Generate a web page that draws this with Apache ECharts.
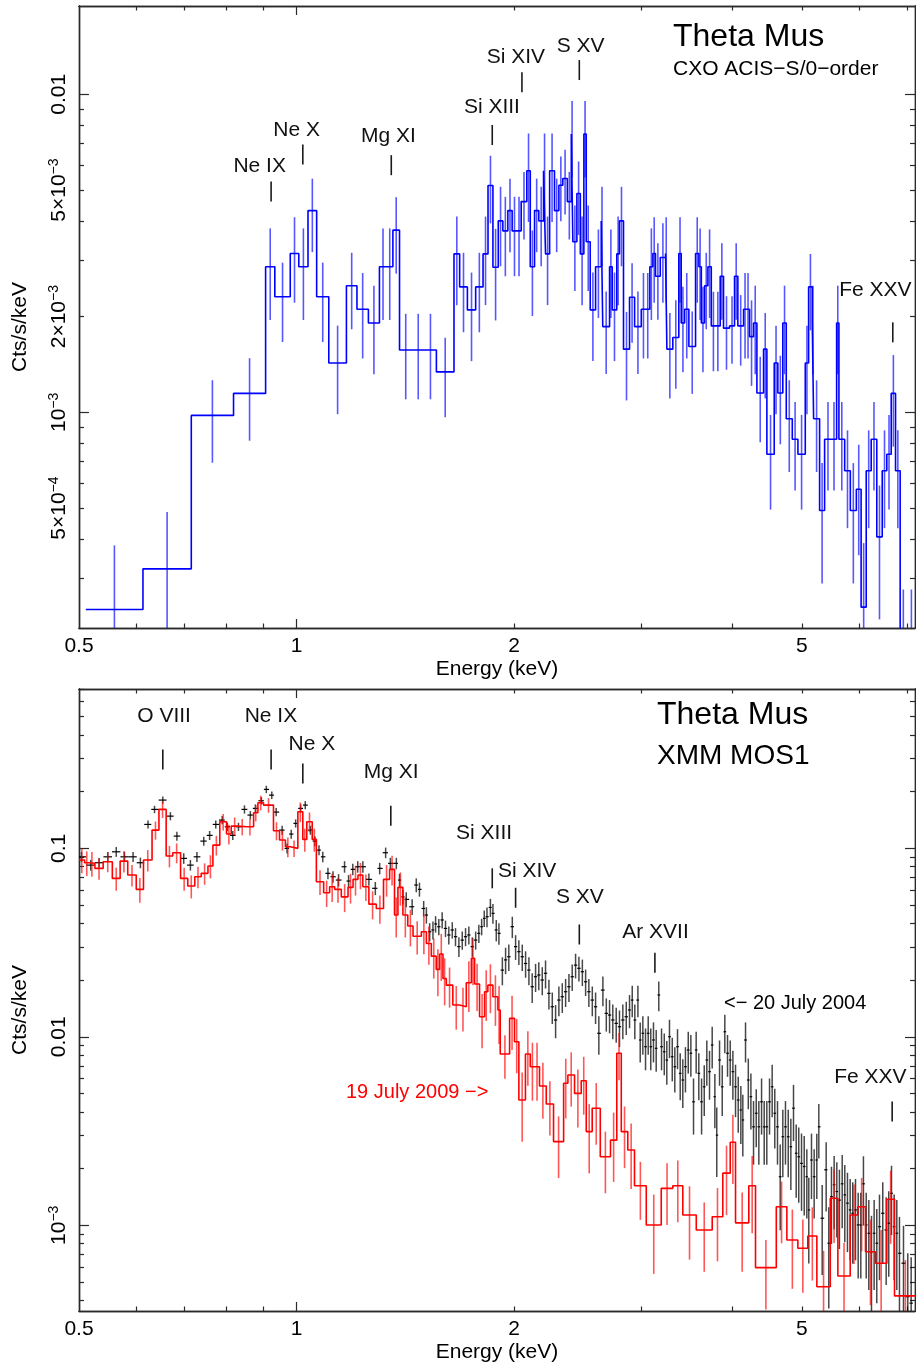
<!DOCTYPE html>
<html>
<head>
<meta charset="utf-8">
<script src="https://cdn.jsdelivr.net/npm/echarts@6.0.0/dist/echarts.min.js"></script>
<style>
html,body{margin:0;padding:0;background:#ffffff;}
#chart{width:916px;height:1370px;}
</style>
</head>
<body>
<div id="chart"></div>
<script>
// ---------------- Axis ranges & tick labels ----------------
const energyRange = [0.5, 7.17];
const cxoRange = [2.098e-4, 0.01896];
const xmmRange = [3.508e-4, 0.701];

const energyMinorTicks = [0.6, 0.7, 0.8, 0.9, 2, 3, 4, 5, 6, 7];
const energyMajorTicks = [1];
const energyLabels = [0.5, 1, 2, 5];
const energyLabelText = ['0.5', '1', '2', '5'];

const cxoMinorTicks = [3e-4, 4e-4, 5e-4, 6e-4, 7e-4, 8e-4, 9e-4, 2e-3, 3e-3, 4e-3, 5e-3, 6e-3, 7e-3, 8e-3, 9e-3];
const cxoMajorTicks = [1e-3, 1e-2];
const cxoLabels = [5e-4, 1e-3, 2e-3, 5e-3, 1e-2];
const cxoLabelText = ['5×10^−4', '10^−3', '2×10^−3', '5×10^−3', '0.01'];

const xmmMinorTicks = [4e-4, 5e-4, 6e-4, 7e-4, 8e-4, 9e-4, 2e-3, 3e-3, 4e-3, 5e-3, 6e-3, 7e-3, 8e-3, 9e-3,
  0.02, 0.03, 0.04, 0.05, 0.06, 0.07, 0.08, 0.09, 0.2, 0.3, 0.4, 0.5, 0.6, 0.7];
const xmmMajorTicks = [1e-3, 1e-2, 0.1];
const xmmLabels = [1e-3, 1e-2, 0.1];
const xmmLabelText = ['10^−3', '0.01', '0.1'];

// ---------------- CXO ACIS-S/0-order spectrum (bin edges keV, Cts/s/keV, fractional error) ----------------
const cxoEdges = [0.511, 0.613, 0.715, 0.818, 0.906, 0.933, 0.980, 1.007, 1.037, 1.066,
  1.108, 1.172, 1.212, 1.257, 1.302, 1.332, 1.359, 1.388, 1.444, 1.503,
  1.561, 1.651, 1.681, 1.723, 1.769, 1.811, 1.840, 1.869, 1.901, 1.929,
  1.960, 1.987, 2.017, 2.045, 2.082, 2.105, 2.134, 2.163, 2.196, 2.210,
  2.239, 2.274, 2.306, 2.335, 2.369, 2.399, 2.411, 2.442, 2.469, 2.497,
  2.516, 2.548, 2.592, 2.639, 2.652, 2.710, 2.733, 2.773, 2.797, 2.833,
  2.888, 2.935, 2.998, 3.040, 3.081, 3.111, 3.137, 3.185, 3.239, 3.253,
  3.315, 3.379, 3.405, 3.442, 3.489, 3.564, 3.602, 3.630, 3.668, 3.707,
  3.747, 3.798, 3.855, 3.896, 3.971, 4.035, 4.078, 4.153, 4.192, 4.233,
  4.287, 4.333, 4.426, 4.473, 4.579, 4.632, 4.706, 4.758, 4.850, 4.938,
  5.055, 5.109, 5.169, 5.191, 5.291, 5.376, 5.493, 5.586, 5.627, 5.731,
  5.835, 5.948, 6.039, 6.138, 6.236, 6.348, 6.459, 6.554, 6.647, 6.739,
  6.839, 6.978, 7.2];
const cxoRate = [2.40e-4, 3.22e-4, 9.78e-4, 1.147e-3, 2.87e-3, 2.31e-3, 3.16e-3, 2.87e-3, 4.31e-3, 2.31e-3,
  1.43e-3, 2.50e-3, 2.11e-3, 1.91e-3, 2.87e-3, 2.87e-3, 3.74e-3, 1.57e-3, 1.57e-3, 1.57e-3,
  1.34e-3, 3.15e-3, 2.48e-3, 2.10e-3, 2.48e-3, 3.15e-3, 5.17e-3, 2.86e-3, 4.00e-3, 3.72e-3,
  4.31e-3, 3.72e-3, 3.72e-3, 4.60e-3, 5.75e-3, 2.87e-3, 4.31e-3, 4.00e-3, 5.75e-3, 3.15e-3,
  5.75e-3, 4.31e-3, 5.18e-3, 5.44e-3, 4.60e-3, 7.50e-3, 3.44e-3, 4.88e-3, 3.15e-3, 7.50e-3,
  3.44e-3, 2.10e-3, 2.87e-3, 4.00e-3, 1.86e-3, 2.87e-3, 2.10e-3, 3.15e-3, 4.00e-3, 1.58e-3,
  2.30e-3, 1.86e-3, 2.11e-3, 2.11e-3, 2.87e-3, 3.16e-3, 2.68e-3, 3.07e-3, 3.16e-3, 1.58e-3,
  1.72e-3, 3.16e-3, 1.91e-3, 2.11e-3, 1.61e-3, 3.16e-3, 2.87e-3, 1.91e-3, 2.50e-3, 2.87e-3,
  1.87e-3, 1.87e-3, 2.68e-3, 1.84e-3, 1.87e-3, 2.68e-3, 1.87e-3, 2.11e-3, 2.11e-3, 1.73e-3,
  1.91e-3, 1.15e-3, 1.58e-3, 7.38e-4, 1.43e-3, 1.15e-3, 1.91e-3, 9.55e-4, 8.23e-4, 7.38e-4,
  1.43e-3, 2.48e-3, 1.91e-3, 9.55e-4, 4.91e-4, 8.23e-4, 8.23e-4, 1.91e-3, 8.23e-4, 6.55e-4,
  4.91e-4, 5.73e-4, 2.44e-4, 6.55e-4, 8.23e-4, 4.06e-4, 6.55e-4, 7.38e-4, 1.147e-3, 6.55e-4,
  1.66e-4, 1.66e-4];
const cxoErr = [0.59, 0.51, 0.29, 0.29, 0.32, 0.28, 0.30, 0.32, 0.26, 0.28,
  0.31, 0.27, 0.30, 0.31, 0.32, 0.32, 0.27, 0.30, 0.30, 0.30,
  0.28, 0.31, 0.28, 0.31, 0.28, 0.31, 0.24, 0.32, 0.28, 0.28,
  0.26, 0.28, 0.28, 0.24, 0.31, 0.30, 0.26, 0.28, 0.31, 0.31,
  0.31, 0.26, 0.23, 0.23, 0.24, 0.27, 0.30, 0.26, 0.31, 0.27,
  0.30, 0.31, 0.31, 0.28, 0.29, 0.31, 0.31, 0.31, 0.28, 0.31,
  0.28, 0.29, 0.30, 0.30, 0.32, 0.30, 0.27, 0.28, 0.30, 0.30,
  0.31, 0.30, 0.30, 0.30, 0.29, 0.30, 0.32, 0.30, 0.27, 0.31,
  0.28, 0.28, 0.27, 0.26, 0.24, 0.27, 0.25, 0.30, 0.30, 0.30,
  0.31, 0.30, 0.30, 0.33, 0.31, 0.31, 0.31, 0.32, 0.31, 0.33,
  0.31, 0.27, 0.31, 0.32, 0.41, 0.31, 0.31, 0.31, 0.31, 0.34,
  0.41, 0.38, 0.59, 0.34, 0.31, 0.45, 0.34, 0.33, 0.32, 0.34,
  0.67, 0.67];

// ---------------- XMM MOS1, 19 July 2009 (red histogram) ----------------
const mos2009Edges = [0.500, 0.509, 0.516, 0.526, 0.540, 0.556, 0.570, 0.584, 0.600, 0.614,
  0.631, 0.645, 0.660, 0.674, 0.691, 0.707, 0.723, 0.738, 0.754, 0.766,
  0.783, 0.800, 0.812, 0.830, 0.852, 0.872, 0.884, 0.900, 0.929, 0.947,
  0.965, 0.980, 1.004, 1.020, 1.033, 1.051, 1.065, 1.090, 1.111, 1.129,
  1.153, 1.178, 1.197, 1.216, 1.235, 1.259, 1.289, 1.319, 1.345, 1.366,
  1.381, 1.403, 1.425, 1.449, 1.488, 1.512, 1.536, 1.560, 1.577, 1.594,
  1.611, 1.645, 1.681, 1.717, 1.745, 1.763, 1.791, 1.820, 1.839, 1.869,
  1.899, 1.913, 1.971, 2.002, 2.030, 2.073, 2.105, 2.134, 2.168, 2.215,
  2.267, 2.341, 2.373, 2.424, 2.476, 2.516, 2.564, 2.631, 2.718, 2.773,
  2.813, 2.872, 2.934, 3.046, 3.195, 3.315, 3.422, 3.572, 3.758, 3.887,
  3.980, 4.048, 4.223, 4.314, 4.609, 4.767, 4.937, 5.096, 5.245, 5.474,
  5.608, 5.833, 5.976, 6.124, 6.322, 6.554, 6.717, 7.2];
const mos2009Rate = [0.0867, 0.0839, 0.0833, 0.0783, 0.0849, 0.0693, 0.0856, 0.0722, 0.0606, 0.0867,
  0.125, 0.161, 0.0911, 0.0948, 0.0693, 0.0631, 0.0707, 0.0737, 0.0806, 0.1041,
  0.1384, 0.1191, 0.1313, 0.1302, 0.1302, 0.1545, 0.1746, 0.1697, 0.124, 0.1107,
  0.102, 0.1, 0.1564, 0.1116, 0.1384, 0.1116, 0.0665, 0.0581, 0.0626, 0.0606,
  0.0553, 0.0621, 0.0685, 0.0722, 0.0626, 0.0506, 0.0480, 0.0685, 0.0774, 0.0443,
  0.0621, 0.0443, 0.0387, 0.0342, 0.0361, 0.0313, 0.0268, 0.0228, 0.0275, 0.0204,
  0.0188, 0.01475, 0.01444, 0.01936, 0.0261, 0.01906, 0.01278, 0.01735, 0.0188, 0.01632,
  0.01388, 0.0081, 0.01253, 0.00942, 0.00462, 0.0081, 0.00694, 0.00694, 0.00548, 0.0044,
  0.00278, 0.00567, 0.00627, 0.00501, 0.00585, 0.00314, 0.00418, 0.00231, 0.00283, 0.00818,
  0.00314, 0.00251, 0.00162, 0.001004, 0.00157, 0.00162, 0.001134, 0.000944, 0.00111, 0.00189,
  0.00276, 0.00103, 0.00162, 0.000596, 0.001255, 0.000836, 0.000755, 0.000877, 0.000472, 0.00139,
  0.000538, 0.001134, 0.001255, 0.000724, 0.000629, 0.001374, 0.000422];
const mos2009Err = [0.15, 0.15, 0.15, 0.13, 0.12, 0.14, 0.13, 0.13, 0.15, 0.13,
  0.11, 0.10, 0.13, 0.12, 0.14, 0.14, 0.13, 0.13, 0.14, 0.12,
  0.10, 0.12, 0.11, 0.10, 0.10, 0.10, 0.09, 0.09, 0.11, 0.12,
  0.12, 0.10, 0.12, 0.14, 0.12, 0.14, 0.15, 0.16, 0.17, 0.15,
  0.17, 0.18, 0.18, 0.16, 0.16, 0.17, 0.17, 0.19, 0.18, 0.24,
  0.20, 0.24, 0.22, 0.20, 0.24, 0.23, 0.24, 0.28, 0.28, 0.28,
  0.24, 0.26, 0.26, 0.30, 0.28, 0.28, 0.32, 0.30, 0.29, 0.30,
  0.34, 0.26, 0.32, 0.32, 0.40, 0.32, 0.34, 0.34, 0.33, 0.32,
  0.36, 0.35, 0.32, 0.34, 0.34, 0.40, 0.36, 0.36, 0.40, 0.28,
  0.36, 0.38, 0.34, 0.45, 0.36, 0.36, 0.42, 0.40, 0.42, 0.40,
  0.40, 0.45, 0.44, 0.40, 0.36, 0.45, 0.42, 0.42, 0.55, 0.42,
  0.50, 0.45, 0.42, 0.48, 0.50, 0.42, 0.55];

// ---------------- XMM MOS1, 20 July 2004 (black crosses: bin centre keV, Cts/s/keV, fractional error) ----------------
const mos2004Energy = [0.504, 0.519, 0.533, 0.548, 0.563, 0.578, 0.594, 0.608, 0.623, 0.636,
  0.653, 0.669, 0.683, 0.698, 0.713, 0.728, 0.744, 0.758, 0.773, 0.789,
  0.802, 0.816, 0.831, 0.847, 0.863, 0.877, 0.894, 0.908, 0.924, 0.937,
  0.955, 0.970, 0.983, 0.997, 1.013, 1.028, 1.045, 1.060, 1.074, 1.087,
  1.105, 1.123, 1.143, 1.165, 1.180, 1.196, 1.215, 1.235, 1.259, 1.285,
  1.303, 1.328, 1.348, 1.374, 1.388, 1.403, 1.418, 1.445, 1.464, 1.479,
  1.499, 1.512, 1.528, 1.544, 1.557, 1.573, 1.590, 1.607, 1.624, 1.642,
  1.659, 1.677, 1.695, 1.713, 1.731, 1.750, 1.769, 1.787, 1.803, 1.818,
  1.834, 1.854, 1.869, 1.889, 1.905, 1.926, 1.946, 1.966, 1.988, 2.009,
  2.030, 2.052, 2.074, 2.096, 2.118, 2.141, 2.163, 2.187, 2.210, 2.234,
  2.258, 2.282, 2.306, 2.331, 2.356, 2.381, 2.406, 2.432, 2.458, 2.485,
  2.511, 2.537, 2.565, 2.592, 2.619, 2.653, 2.682, 2.710, 2.738, 2.768,
  2.797, 2.827, 2.858, 2.888, 2.913, 2.937, 2.966, 2.988, 3.013, 3.039,
  3.065, 3.090, 3.117, 3.144, 3.170, 3.198, 3.226, 3.252, 3.280, 3.309,
  3.336, 3.365, 3.394, 3.422, 3.451, 3.482, 3.511, 3.541, 3.571, 3.601,
  3.633, 3.664, 3.694, 3.726, 3.758, 3.790, 3.813, 3.847, 3.880, 3.912,
  3.946, 3.980, 4.014, 4.048, 4.083, 4.117, 4.143, 4.179, 4.216, 4.251,
  4.287, 4.324, 4.360, 4.398, 4.435, 4.472, 4.511, 4.549, 4.587, 4.627,
  4.667, 4.706, 4.746, 4.788, 4.828, 4.869, 4.911, 4.951, 4.995, 5.038,
  5.080, 5.112, 5.156, 5.200, 5.244, 5.278, 5.335, 5.403, 5.448, 5.495,
  5.542, 5.589, 5.636, 5.686, 5.733, 5.782, 5.832, 5.880, 5.932, 5.983,
  6.033, 6.084, 6.138, 6.189, 6.242, 6.295, 6.348, 6.403, 6.470, 6.541,
  6.595, 6.653, 6.710, 6.766, 6.824, 6.912, 7.007, 7.083];
const mos2004Rate = [0.0902, 0.0815, 0.0839, 0.0902, 0.0959, 0.0902, 0.0902, 0.0839, 0.134, 0.161,
  0.1804, 0.1483, 0.1162, 0.0885, 0.0815, 0.0902, 0.1093, 0.1172, 0.134, 0.1413,
  0.1302, 0.1172, 0.1302, 0.161, 0.1502, 0.163, 0.1789, 0.2056, 0.1917, 0.1558,
  0.125, 0.1, 0.1191, 0.1357, 0.163, 0.1697, 0.125, 0.1093, 0.0979, 0.0902,
  0.0737, 0.0707, 0.0679, 0.0799, 0.0671, 0.0774, 0.0799, 0.0799, 0.0685, 0.0614,
  0.0783, 0.0948, 0.0833, 0.0833, 0.0679, 0.0553, 0.0536, 0.049, 0.0639, 0.0606,
  0.048, 0.0443, 0.0361, 0.0369, 0.0397, 0.0384, 0.0417, 0.0376, 0.0347, 0.0369,
  0.034, 0.0301, 0.0326, 0.034, 0.0347, 0.0301, 0.0326, 0.0354, 0.0384, 0.0425,
  0.0434, 0.0486, 0.0452, 0.0369, 0.0354, 0.0226, 0.0256, 0.0266, 0.0384, 0.0301,
  0.0283, 0.0266, 0.0245, 0.0226, 0.01844, 0.02084, 0.02128, 0.02002, 0.02173, 0.01701,
  0.01444, 0.01228, 0.01567, 0.01632, 0.01735, 0.01844, 0.02084, 0.024, 0.0231, 0.02215,
  0.0196, 0.01735, 0.01567, 0.01444, 0.01044, 0.0177, 0.01332, 0.01305, 0.01228, 0.01179,
  0.01131, 0.01228, 0.01278, 0.01388, 0.01567, 0.01228, 0.01567, 0.00962, 0.01044, 0.00886,
  0.01044, 0.00886, 0.00962, 0.00869, 0.01667, 0.00886, 0.00833, 0.00753, 0.01001, 0.00784,
  0.00694, 0.00886, 0.0064, 0.0059, 0.00694, 0.00851, 0.00818, 0.00452, 0.00851, 0.0064,
  0.00452, 0.00543, 0.00753, 0.00653, 0.00905, 0.00481, 0.00301, 0.00753, 0.00543, 0.01064,
  0.00818, 0.00753, 0.00653, 0.00543, 0.00462, 0.00409, 0.00362, 0.00962, 0.0059, 0.00481,
  0.00333, 0.00393, 0.00333, 0.00452, 0.00333, 0.00333, 0.00452, 0.00543, 0.00393, 0.00333,
  0.00181, 0.00295, 0.00333, 0.00295, 0.00261, 0.00418, 0.00241, 0.00231, 0.00213, 0.00205,
  0.00181, 0.001206, 0.00222, 0.00181, 0.00222, 0.00333, 0.00109, 0.00197, 0.000803, 0.00142,
  0.00164, 0.00151, 0.00136, 0.00166, 0.00145, 0.00131, 0.001206, 0.001158, 0.001206, 0.001004,
  0.001004, 0.00166, 0.001004, 0.000907, 0.000724, 0.000907, 0.000803, 0.000983, 0.001158, 0.000944,
  0.001025, 0.001478, 0.000983, 0.000907, 0.00071, 0.000629, 0.000418, 0.000386];
const mos2004Err = [0.06, 0.065, 0.06, 0.06, 0.06, 0.06, 0.06, 0.065, 0.05, 0.045,
  0.045, 0.05, 0.055, 0.065, 0.065, 0.06, 0.055, 0.055, 0.05, 0.05,
  0.05, 0.055, 0.05, 0.05, 0.05, 0.05, 0.045, 0.045, 0.045, 0.05,
  0.055, 0.06, 0.055, 0.05, 0.05, 0.05, 0.055, 0.06, 0.06, 0.065,
  0.07, 0.07, 0.075, 0.07, 0.075, 0.07, 0.07, 0.07, 0.075, 0.08,
  0.07, 0.065, 0.07, 0.07, 0.08, 0.09, 0.09, 0.095, 0.085, 0.085,
  0.095, 0.1, 0.11, 0.11, 0.1, 0.1, 0.1, 0.1, 0.11, 0.1,
  0.11, 0.12, 0.11, 0.11, 0.11, 0.12, 0.11, 0.11, 0.1, 0.1,
  0.12, 0.11, 0.12, 0.13, 0.13, 0.17, 0.16, 0.16, 0.13, 0.15,
  0.15, 0.16, 0.16, 0.17, 0.18, 0.17, 0.17, 0.17, 0.17, 0.18,
  0.19, 0.2, 0.18, 0.18, 0.17, 0.17, 0.16, 0.15, 0.15, 0.16,
  0.16, 0.17, 0.18, 0.19, 0.23, 0.18, 0.2, 0.2, 0.21, 0.21,
  0.22, 0.21, 0.2, 0.2, 0.19, 0.21, 0.19, 0.24, 0.23, 0.25,
  0.23, 0.25, 0.24, 0.25, 0.18, 0.25, 0.25, 0.26, 0.23, 0.26,
  0.27, 0.24, 0.28, 0.29, 0.27, 0.25, 0.25, 0.33, 0.25, 0.28,
  0.33, 0.3, 0.27, 0.29, 0.25, 0.32, 0.4, 0.27, 0.3, 0.23,
  0.25, 0.27, 0.29, 0.31, 0.33, 0.34, 0.36, 0.24, 0.3, 0.33,
  0.37, 0.34, 0.37, 0.33, 0.37, 0.37, 0.33, 0.31, 0.35, 0.37,
  0.48, 0.39, 0.37, 0.39, 0.41, 0.33, 0.42, 0.43, 0.44, 0.45,
  0.4, 0.48, 0.38, 0.4, 0.38, 0.32, 0.5, 0.4, 0.55, 0.44,
  0.42, 0.43, 0.45, 0.42, 0.44, 0.45, 0.46, 0.46, 0.46, 0.48,
  0.48, 0.4, 0.48, 0.5, 0.55, 0.5, 0.52, 0.48, 0.46, 0.49,
  0.48, 0.4, 0.48, 0.5, 0.56, 0.58, 0.7, 0.75];

// ---------------- Line identifications ----------------
const cxoLineNames = ['Ne IX', 'Ne X', 'Mg XI', 'Si XIII', 'Si XIV', 'S XV', 'Fe XXV'];
const cxoLineEnergy = [0.922, 1.02, 1.352, 1.865, 2.05, 2.461, 6.68];
const cxoLineTickBase = [4.60e-3, 6.02e-3, 5.57e-3, 6.93e-3, 0.01015, 0.01109, 1.66e-3];
const cxoLabelEnergy = [0.889, 1.0, 1.340, 1.863, 2.011, 2.471, 6.32];
const cxoLabelLevel = [5.95e-3, 7.72e-3, 7.39e-3, 9.10e-3, 0.01307, 0.01419, 2.42e-3];

const xmmLineNames = ['O VIII', 'Ne IX', 'Ne X', 'Mg XI', 'Si XIII', 'Si XIV', 'S XV', 'Ar XVII', 'Fe XXV'];
const xmmLineEnergy = [0.653, 0.922, 1.02, 1.35, 1.865, 2.009, 2.461, 3.131, 6.667];
const xmmLineTickBase = [0.2625, 0.2625, 0.2212, 0.1318, 0.0614, 0.0484, 0.0309, 0.02188, 0.00355];
const xmmLabelEnergy = [0.6557, 0.9215, 1.050, 1.352, 1.817, 2.084, 2.466, 3.137, 6.219];
const xmmLabelLevel = [0.505, 0.505, 0.356, 0.2531, 0.121, 0.0761, 0.0549, 0.0357, 0.0061];

// ---------------- helpers ----------------
const FONT = '"Liberation Sans", Arial, Helvetica, sans-serif';
const AXIS_COLOR = '#2a2a2a';

function richLabel(s) {
  const i = s.indexOf('^');
  return i < 0 ? '{b|' + s + '}' : '{b|' + s.slice(0, i) + '}{s|' + s.slice(i + 1) + '}';
}
function labelFormatter(values, texts, rich) {
  return function (v) {
    const val = typeof v === 'object' ? v.value : v;
    for (let i = 0; i < values.length; i++) {
      if (Math.abs(Math.log10(val / values[i])) < 1e-4) return rich ? richLabel(texts[i]) : texts[i];
    }
    return '';
  };
}
function stepData(edges, vals) {
  const d = vals.map((v, i) => [edges[i], v]);
  d.push([edges[edges.length - 1], vals[vals.length - 1]]);
  return d;
}
function binErrData(edges, vals, frac) {
  return vals.map((v, i) => [Math.sqrt(edges[i] * edges[i + 1]), Math.max(v * (1 - frac[i]), 1e-9), v * (1 + frac[i])]);
}
function crossData(E, V, F) {
  return E.map((e, i) => {
    const prev = i > 0 ? E[i - 1] : e * e / E[i + 1];
    const next = i < E.length - 1 ? E[i + 1] : e * e / E[i - 1];
    return [e, Math.sqrt(prev * e), Math.sqrt(e * next), V[i], Math.max(V[i] * (1 - F[i]), 1e-9), V[i] * (1 + F[i])];
  });
}
function clampY(y, cs) { return Math.max(cs.y, Math.min(cs.y + cs.height, y)); }
function clampX(x, cs) { return Math.max(cs.x, Math.min(cs.x + cs.width, x)); }

function errBarRenderer(color, width) {
  return function (params, api) {
    const cs = params.coordSys;
    const p1 = api.coord([api.value(0), api.value(2)]);
    const p2 = api.coord([api.value(0), api.value(1)]);
    if (!(p1[0] >= cs.x && p1[0] <= cs.x + cs.width)) return null;
    const y1 = clampY(p1[1], cs), y2 = clampY(p2[1], cs);
    if (Math.abs(y1 - y2) < 0.1) return null;
    return { type: 'line', shape: { x1: p1[0], y1: y1, x2: p1[0], y2: y2 },
      style: { stroke: color, lineWidth: width } };
  };
}
function crossRenderer(params, api) {
  const cs = params.coordSys;
  const e = api.value(0), v = api.value(3);
  const pc = api.coord([e, v]);
  const pl = api.coord([api.value(1), v]);
  const ph = api.coord([api.value(2), v]);
  const pt = api.coord([e, api.value(5)]);
  const pb = api.coord([e, api.value(4)]);
  const children = [];
  if (pc[0] < cs.x || pc[0] > cs.x + cs.width) return null;
  const y1 = clampY(pt[1], cs), y2 = clampY(pb[1], cs);
  if (Math.abs(y1 - y2) > 0.1) {
    children.push({ type: 'line', shape: { x1: pc[0], y1: y1, x2: pc[0], y2: y2 },
      style: { stroke: 'rgba(0,0,0,0.72)', lineWidth: 1.5 } });
  }
  if (pc[1] >= cs.y && pc[1] <= cs.y + cs.height) {
    children.push({ type: 'line', shape: { x1: clampX(pl[0], cs), y1: pc[1], x2: clampX(ph[0], cs), y2: pc[1] },
      style: { stroke: '#000', lineWidth: 1.2 } });
  }
  return { type: 'group', children: children };
}
function lineIdSeries(xi, yi, names, tickE, tickV, labE, labV) {
  return {
    type: 'custom', xAxisIndex: xi, yAxisIndex: yi, z: 6, silent: true,
    data: names.map((n, i) => [tickE[i], tickV[i], labE[i], labV[i]]),
    encode: { x: [0, 2], y: [1, 3] },
    renderItem: function (params, api) {
      const i = params.dataIndex;
      const t = api.coord([api.value(0), api.value(1)]);
      const l = api.coord([api.value(2), api.value(3)]);
      return { type: 'group', children: [
        { type: 'line', shape: { x1: t[0], y1: t[1], x2: t[0], y2: t[1] - 20 },
          style: { stroke: '#1a1a1a', lineWidth: 1.6 } },
        { type: 'text', x: l[0], y: l[1],
          style: { text: names[i], font: '21px ' + FONT, fill: '#111',
            align: 'center', verticalAlign: 'middle', textAlign: 'center', textVerticalAlign: 'middle' } }
      ] };
    }
  };
}

const tickStyle = { color: AXIS_COLOR, width: 1.2 };
const lineStyleAxis = { color: AXIS_COLOR, width: 1.4 };
const rich = {
  b: { fontSize: 21, fontFamily: FONT, color: '#000', lineHeight: 24 },
  s: { fontSize: 14, fontFamily: FONT, color: '#000', lineHeight: 14, verticalAlign: 'top' }
};

function energyAxes(gridIndex) {
  const base = { gridIndex: gridIndex, type: 'log', logBase: 10, min: energyRange[0], max: energyRange[1],
    splitLine: { show: false }, minorTick: { show: false }, minorSplitLine: { show: false },
    axisLine: { show: true, onZero: false, lineStyle: lineStyleAxis } };
  return [
    Object.assign({}, base, { position: 'bottom',
      axisTick: { show: true, inside: true, length: 4.5, customValues: energyMinorTicks, lineStyle: tickStyle },
      axisLabel: { show: true, customValues: energyLabels, formatter: labelFormatter(energyLabels, energyLabelText, false),
        fontSize: 21, fontFamily: FONT, color: '#000', margin: 8 },
      name: 'Energy (keV)', nameLocation: 'middle', nameGap: 31,
      nameTextStyle: { fontSize: 21, fontFamily: FONT, color: '#000' } }),
    Object.assign({}, base, { position: 'bottom',
      axisTick: { show: true, inside: true, length: 9, customValues: energyMajorTicks, lineStyle: tickStyle },
      axisLabel: { show: false } }),
    Object.assign({}, base, { position: 'top',
      axisTick: { show: true, inside: true, length: 4.5, customValues: energyMinorTicks, lineStyle: tickStyle },
      axisLabel: { show: false } }),
    Object.assign({}, base, { position: 'top',
      axisTick: { show: true, inside: true, length: 9, customValues: energyMajorTicks, lineStyle: tickStyle },
      axisLabel: { show: false } })
  ];
}
function rateAxes(gridIndex, range, minor, major, labels, labelText) {
  const base = { gridIndex: gridIndex, type: 'log', logBase: 10, min: range[0], max: range[1],
    splitLine: { show: false }, minorTick: { show: false }, minorSplitLine: { show: false },
    axisLine: { show: true, onZero: false, lineStyle: lineStyleAxis } };
  return [
    Object.assign({}, base, { position: 'left',
      axisTick: { show: true, inside: true, length: 5, customValues: minor, lineStyle: tickStyle },
      axisLabel: { show: true, customValues: labels, formatter: labelFormatter(labels, labelText, true),
        rotate: 90, margin: 8, rich: rich, fontSize: 21, fontFamily: FONT, color: '#000' } }),
    Object.assign({}, base, { position: 'left',
      axisTick: { show: true, inside: true, length: 10, customValues: major, lineStyle: tickStyle },
      axisLabel: { show: false } }),
    Object.assign({}, base, { position: 'right',
      axisTick: { show: true, inside: true, length: 5, customValues: minor, lineStyle: tickStyle },
      axisLabel: { show: false } }),
    Object.assign({}, base, { position: 'right',
      axisTick: { show: true, inside: true, length: 10, customValues: major, lineStyle: tickStyle },
      axisLabel: { show: false } })
  ];
}

const chart = echarts.init(document.getElementById('chart'), null, { renderer: 'canvas' });

const option = {
  backgroundColor: '#ffffff',
  animation: false,
  textStyle: { fontFamily: FONT },
  grid: [
    { left: 79, top: 6, width: 836, height: 622, containLabel: false },
    { left: 79, top: 689, width: 836, height: 622, containLabel: false }
  ],
  xAxis: energyAxes(0).concat(energyAxes(1)),
  yAxis: rateAxes(0, cxoRange, cxoMinorTicks, cxoMajorTicks, cxoLabels, cxoLabelText)
    .concat(rateAxes(1, xmmRange, xmmMinorTicks, xmmMajorTicks, xmmLabels, xmmLabelText)),
  series: [
    // ---- top panel: Chandra ----
    { type: 'custom', name: 'CXO errors', xAxisIndex: 0, yAxisIndex: 0, z: 2, silent: true,
      data: binErrData(cxoEdges, cxoRate, cxoErr), encode: { x: 0, y: [1, 2] },
      renderItem: errBarRenderer('rgba(0,0,255,0.66)', 1.6) },
    { type: 'line', name: 'CXO ACIS-S/0-order', xAxisIndex: 0, yAxisIndex: 0, z: 3, silent: true,
      data: stepData(cxoEdges, cxoRate), step: 'end', symbol: 'none', clip: true,
      lineStyle: { color: '#0000ff', width: 1.6 } },
    lineIdSeries(0, 0, cxoLineNames, cxoLineEnergy, cxoLineTickBase, cxoLabelEnergy, cxoLabelLevel),
    // ---- bottom panel: XMM MOS1 ----
    { type: 'custom', name: '20 July 2004', xAxisIndex: 4, yAxisIndex: 4, z: 2, silent: true,
      data: crossData(mos2004Energy, mos2004Rate, mos2004Err), encode: { x: [0, 1, 2], y: [3, 4, 5] },
      renderItem: crossRenderer },
    { type: 'custom', name: '19 July 2009 errors', xAxisIndex: 4, yAxisIndex: 4, z: 3, silent: true,
      data: binErrData(mos2009Edges, mos2009Rate, mos2009Err), encode: { x: 0, y: [1, 2] },
      renderItem: errBarRenderer('rgba(255,0,0,0.66)', 1.6) },
    { type: 'line', name: '19 July 2009', xAxisIndex: 4, yAxisIndex: 4, z: 4, silent: true,
      data: stepData(mos2009Edges, mos2009Rate), step: 'end', symbol: 'none', clip: true,
      lineStyle: { color: '#ff0000', width: 1.6 } },
    lineIdSeries(4, 4, xmmLineNames, xmmLineEnergy, xmmLineTickBase, xmmLabelEnergy, xmmLabelLevel)
  ],
  graphic: [
    { type: 'text', x: 673, y: 37, silent: true,
      style: { text: 'Theta Mus', font: '32px ' + FONT, fill: '#000', align: 'left', verticalAlign: 'middle', textAlign: 'left', textVerticalAlign: 'middle' } },
    { type: 'text', x: 673, y: 69, silent: true,
      style: { text: 'CXO ACIS\u2212S/0\u2212order', font: '21px ' + FONT, fill: '#000', align: 'left', verticalAlign: 'middle', textAlign: 'left', textVerticalAlign: 'middle' } },
    { type: 'text', x: 657, y: 715, silent: true,
      style: { text: 'Theta Mus', font: '32px ' + FONT, fill: '#000', align: 'left', verticalAlign: 'middle', textAlign: 'left', textVerticalAlign: 'middle' } },
    { type: 'text', x: 657, y: 756, silent: true,
      style: { text: 'XMM MOS1', font: '28px ' + FONT, fill: '#000', align: 'left', verticalAlign: 'middle', textAlign: 'left', textVerticalAlign: 'middle' } },
    { type: 'text', x: 724, y: 1003, silent: true,
      style: { text: '<\u2212 20 July 2004', font: '20px ' + FONT, fill: '#000', align: 'left', verticalAlign: 'middle', textAlign: 'left', textVerticalAlign: 'middle' } },
    { type: 'text', x: 346, y: 1092, silent: true,
      style: { text: '19 July 2009 \u2212>', font: '20px ' + FONT, fill: '#ff0000', align: 'left', verticalAlign: 'middle', textAlign: 'left', textVerticalAlign: 'middle' } },
    { type: 'text', x: 20, y: 327, rotation: Math.PI / 2, silent: true,
      style: { text: 'Cts/s/keV', font: '21px ' + FONT, fill: '#000', align: 'center', verticalAlign: 'middle', textAlign: 'center', textVerticalAlign: 'middle' } },
    { type: 'text', x: 20, y: 1010, rotation: Math.PI / 2, silent: true,
      style: { text: 'Cts/s/keV', font: '21px ' + FONT, fill: '#000', align: 'center', verticalAlign: 'middle', textAlign: 'center', textVerticalAlign: 'middle' } }
  ]
};
chart.setOption(option);
</script>
</body>
</html>
